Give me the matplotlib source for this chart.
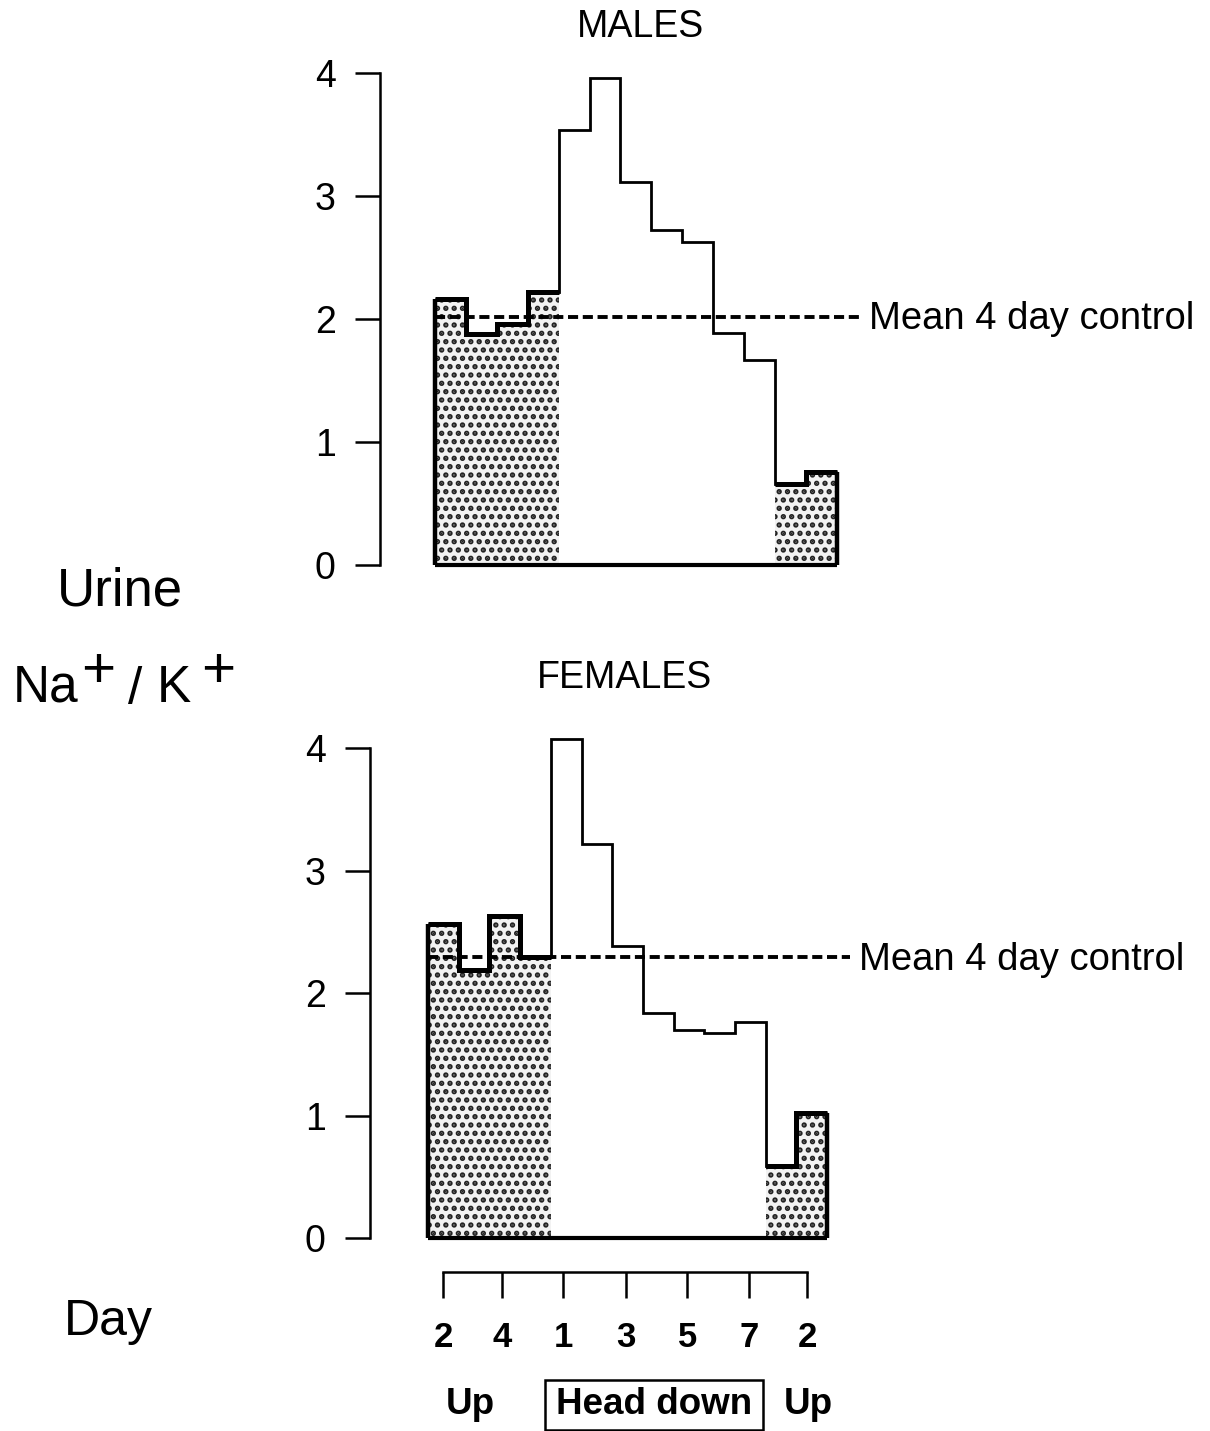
import numpy as np
import matplotlib
matplotlib.use("Agg")
import matplotlib.pyplot as plt
from matplotlib.patches import Rectangle

plt.rcParams['font.family'] = ['Liberation Sans', 'DejaVu Sans']
plt.rcParams['hatch.linewidth'] = 2.6
plt.rcParams['hatch.color'] = '#222222'

# ---- data (Na+/K+ ratio per day) ----
phase = ['Up'] * 4 + ['Head down'] * 7 + ['Up'] * 2
males = [2.16, 1.88, 1.96, 2.22, 3.54, 3.96, 3.11, 2.72, 2.63, 1.89, 1.67, 0.66, 0.76]
females = [2.56, 2.19, 2.63, 2.29, 4.07, 3.22, 2.38, 1.84, 1.70, 1.67, 1.76, 0.59, 1.02]
males_control = 2.02
females_control = 2.29
yticks = [0, 1, 2, 3, 4]
day_pos = [0.5, 2.4, 4.4, 6.45, 8.45, 10.45, 12.35]
day_labels = ['2', '4', '1', '3', '5', '7', '2']

W, H = 1210, 1431
fig = plt.figure(figsize=(W / 100, H / 100), dpi=100)


def box(left, top, right, bottom):
    # pixel box -> figure fraction rect
    return [left / W, 1 - bottom / H, (right - left) / W, (bottom - top) / H]


def panel(rect, xlim, vals, control):
    ax = fig.add_axes(rect)
    n = len(vals)
    x = np.arange(n)
    edges = np.arange(n + 1)
    shade = [p == 'Up' for p in phase]
    for xi, v, s in zip(x, vals, shade):
        if s:
            ax.bar(xi, v, width=1, align='edge', facecolor='#f2f2f2',
                   hatch='..', edgecolor='#222222', linewidth=0, clip_on=False)
    ax.stairs(vals, edges, baseline=None, color='black', lw=2.0, clip_on=False)
    for a, b in [(0, 4), (11, 13)]:
        ax.stairs(vals[a:b], edges[a:b + 1], baseline=None, color='black',
                  lw=3.6, clip_on=False)
    ax.vlines([edges[0], edges[-1]], 0, [vals[0], vals[-1]], color='black',
              lw=3.2, clip_on=False)
    ax.hlines(0, edges[0], edges[-1], color='black', lw=3, clip_on=False)
    ax.hlines(control, 0, 13.75, color='black', lw=2.8,
              linestyles=(0, (2.6, 1.2)), clip_on=False)
    ax.text(14.05, control - 0.02, 'Mean 4 day control', fontsize=27.5,
            va='center', ha='left', clip_on=False)
    ax.set_xlim(*xlim)
    ax.set_ylim(0, 4)
    for s in ['top', 'right', 'bottom']:
        ax.spines[s].set_visible(False)
    ax.spines['left'].set_linewidth(1.8)
    ax.set_xticks([])
    ax.set_yticks(yticks)
    ax.tick_params(axis='y', length=18, width=1.8, labelsize=27, pad=14)
    ax.patch.set_alpha(0)
    return ax


unit_m = 30.9
panel(box(380, 73, 380 + 15.6 * unit_m, 565), (-1.78, 13.82), males,
      males_control)
unit_f = 30.7
panel(box(370, 748, 370 + 15.7 * unit_f, 1238), (-1.89, 13.81), females,
      females_control)

fig.text(640 / W, 1 - 27 / H, 'MALES', fontsize=27, ha='center', va='center')
fig.text(625 / W, 1 - 678 / H, 'FEMALES', fontsize=27, ha='center', va='center')

# day axis under the female panel
ax3 = fig.add_axes(box(370, 1230, 370 + 15.7 * unit_f, 1272))
ax3.set_xlim(-1.89, 13.81)
ax3.set_ylim(0, 1)
for s in ['top', 'right', 'left']:
    ax3.spines[s].set_visible(False)
ax3.spines['bottom'].set_linewidth(1.8)
ax3.spines['bottom'].set_bounds(day_pos[0], day_pos[-1])
ax3.set_yticks([])
ax3.set_xticks(day_pos)
ax3.set_xticklabels(day_labels, fontweight='bold')
ax3.tick_params(axis='x', length=19, width=1.8, labelsize=25, pad=16)
ax3.patch.set_alpha(0)

fig.text(470 / W, 1 - 1405 / H, 'Up', fontsize=26.5, fontweight='bold',
         ha='center', va='center')
fig.text(654 / W, 1 - 1405 / H, 'Head down', fontsize=26.5, fontweight='bold',
         ha='center', va='center')
fig.text(808 / W, 1 - 1405 / H, 'Up', fontsize=26.5, fontweight='bold',
         ha='center', va='center')
fig.patches.append(Rectangle((545 / W, 1 - 1430 / H), 218 / W, 50 / H,
                             transform=fig.transFigure, fill=False,
                             edgecolor='black', lw=1.8))

# y label pieces
fig.text(120 / W, 1 - 592 / H, 'Urine', fontsize=38, ha='center', va='center')
fig.text(13 / W, 1 - 688 / H, 'Na', fontsize=37, ha='left', va='center')
fig.text(98 / W, 1 - 672 / H, '+', fontsize=42, ha='center', va='center')
fig.text(135 / W, 1 - 690 / H, '/', fontsize=37, ha='center', va='center')
fig.text(157 / W, 1 - 688 / H, 'K', fontsize=37, ha='left', va='center')
fig.text(218 / W, 1 - 672 / H, '+', fontsize=42, ha='center', va='center')
fig.text(108 / W, 1 - 1322 / H, 'Day', fontsize=36, ha='center', va='center')

fig.savefig('out.png', dpi=100)
